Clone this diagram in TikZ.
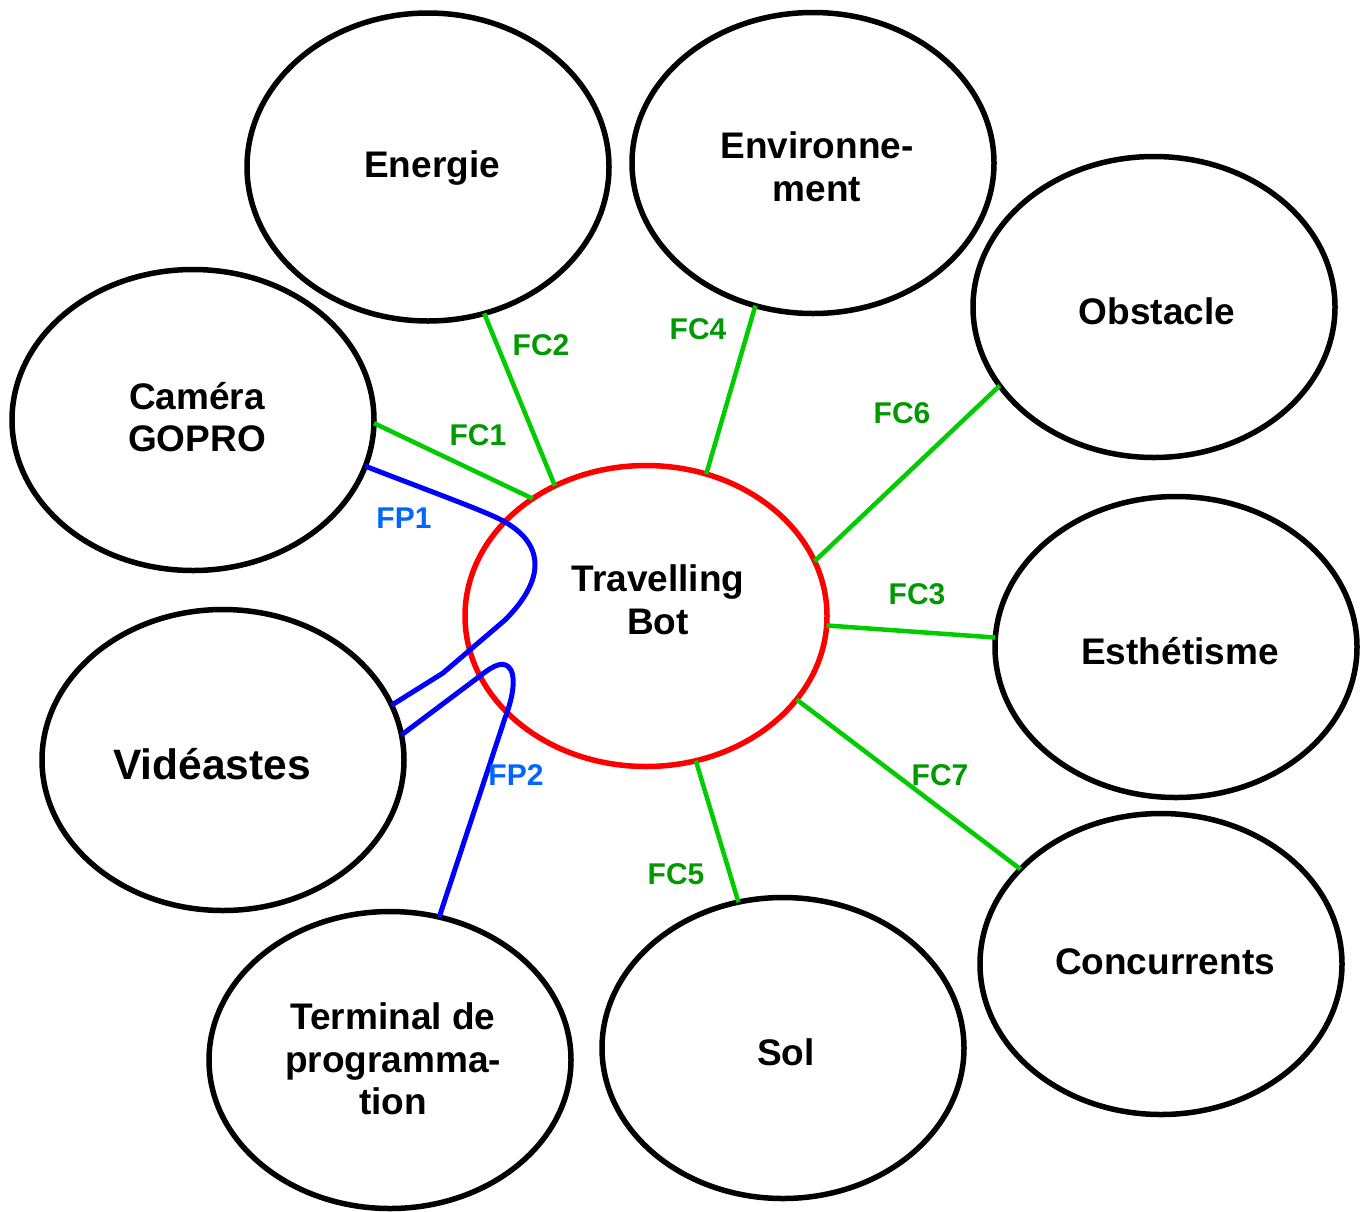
\documentclass[tikz,border=0pt]{standalone}
\usepackage{fontspec}
\setmainfont{Liberation Sans}
\usetikzlibrary{shapes.geometric}
\definecolor{fcline}{RGB}{0,204,0}
\definecolor{fctext}{RGB}{0,153,0}
\definecolor{fpline}{RGB}{0,0,255}
\definecolor{fptext}{RGB}{0,102,255}
\begin{document}
\begin{tikzpicture}[x=1pt,y=-1pt,
  elli/.style={ellipse,draw=black,line width=5.5pt,minimum width=362pt,minimum height=301pt,inner sep=0pt,outer sep=0pt},
  txt/.style={font=\fontsize{37}{42.5}\selectfont\bfseries,align=center,inner sep=0pt},
  fc/.style={draw=fcline,line width=4.5pt},
  fp/.style={draw=fpline,line width=5pt,line join=round},
  fclab/.style={text=fctext,font=\fontsize{30}{34}\selectfont\bfseries,inner sep=0pt},
  fplab/.style={text=fptext,font=\fontsize{30}{34}\selectfont\bfseries,inner sep=0pt}]
\useasboundingbox (0,0) rectangle (1367,1211);
% ellipses
\node[elli,minimum height=308pt] (en) at (428,167) {};
\node[elli] (env) at (813,163) {};
\node[elli] (obs) at (1154,307) {};
\node[elli] (cam) at (193,420) {};
\node[elli,draw=red] (bot) at (646,616) {};
\node[elli] (est) at (1176,647) {};
\node[elli] (vid) at (223,760) {};
\node[elli] (conc) at (1161,964) {};
\node[elli] (sol) at (783,1048) {};
\node[elli,minimum height=297pt] (term) at (390,1060) {};
% texts
\node[txt] (ten) at (432,168) {Energie};
\node[txt] (tenv) at (817,167) {Environne-\\ment};
\node[txt] (tobs) at (1157,311) {Obstacle};
\node[txt] (tcam) at (197,417) {Caméra\\GOPRO};
\node[txt] (tbot) at (658,600) {Travelling\\Bot};
\node[txt] (test) at (1180,651) {Esthétisme};
\node[txt,font=\fontsize{42.5}{48}\selectfont\bfseries] (tvid) at (212,764) {Vidéastes};
\node[txt] (tconc) at (1165,962) {Concurrents};
\node[txt] (tsol) at (786,1052) {Sol};
\node[txt] (tterm) at (393,1059) {Terminal de\\programma-\\tion};
% green connectors
\draw[fc] (cam.-1.2) -- (bot.134.5);
\draw[fc] (en.-69.2) -- (bot.125.6);
\draw[fc] (env.-112.5) -- (bot.67.1);
\draw[fc] (obs.-153) -- (bot.18);
\draw[fc] (est.177.2) -- (bot.-3.8);
\draw[fc] (conc.146.3) -- (bot.-29.5);
\draw[fc] (sol.107.7) -- (bot.-71.2);
% blue connectors
\draw[fp] (cam.-15.2) .. controls (440,495) and (490,513) .. (505,522)
  .. controls (545,545) and (545,580) .. (505,620) -- (443,673) -- (vid.18.1);
\draw[fp] (vid.8.3) -- (480,676) .. controls (495,664) and (505,660) .. (511,670)
  .. controls (516,680) and (512,700) .. (505,718) -- (term.71.3);
% labels
\node[fclab] (l1) at (478,435) {FC1};
\node[fclab] (l2) at (541,345) {FC2};
\node[fclab] (l4) at (698,329) {FC4};
\node[fclab] (l6) at (902,413) {FC6};
\node[fclab] (l3) at (917,594) {FC3};
\node[fclab] (l7) at (940,775) {FC7};
\node[fclab] (l5) at (676,874) {FC5};
\node[fplab] (p1) at (404,518) {FP1};
\node[fplab] (p2) at (516,775) {FP2};
\end{tikzpicture}
\end{document}
